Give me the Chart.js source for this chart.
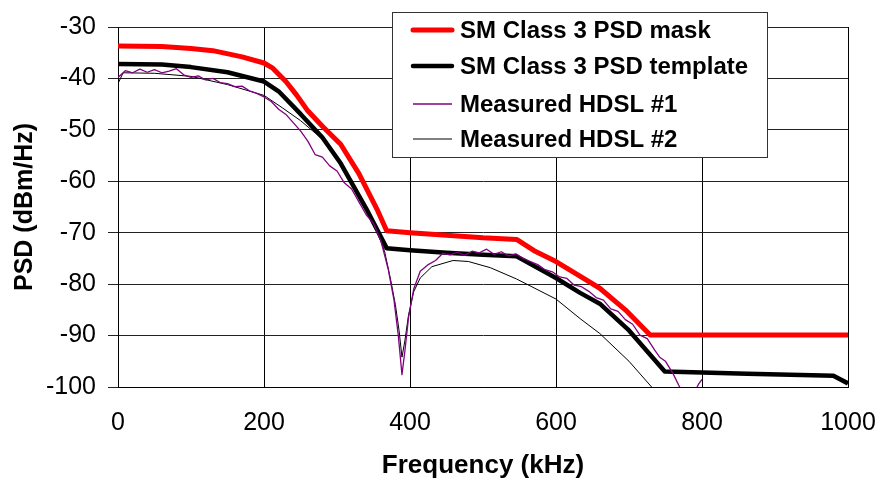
<!DOCTYPE html>
<html>
<head>
<meta charset="utf-8">
<script src="https://cdn.jsdelivr.net/npm/chart.js@4"></script>
<style>
  body { margin: 0; background: #fff; }
  #wrap { width: 882px; height: 481px; }
</style>
</head>
<body>
<div id="wrap"><canvas id="chartPSD" width="882" height="481"></canvas></div>
<script>
// values (kHz, dBm/Hz)
const maskFreq = [0, 60, 100, 130, 170, 200, 212, 230, 245, 260, 280, 305, 330, 355, 368, 400, 450, 500, 546, 570, 600, 630, 660, 695, 729, 1000];
const maskPsd = [-33.7, -33.8, -34.2, -34.6, -35.8, -37.0, -38.0, -40.6, -43.3, -46.3, -49.3, -52.8, -58.5, -65.5, -69.6, -70.0, -70.5, -71.0, -71.3, -73.5, -75.6, -78.2, -80.8, -85.0, -89.9, -89.9];

const templateFreq = [0, 60, 100, 150, 200, 220, 250, 280, 305, 340, 368, 400, 450, 500, 546, 600, 633, 660, 700, 749, 800, 862, 980, 1000];
const templatePsd = [-37.2, -37.3, -37.8, -38.8, -40.6, -42.5, -46.9, -51.5, -56.5, -65.3, -73.0, -73.4, -73.9, -74.3, -74.6, -78.8, -81.7, -83.8, -89.0, -97.0, -97.2, -97.4, -97.8, -99.3];

const hdsl1Freq = [0, 10, 20, 30, 40, 50, 60, 70, 80, 90, 100, 110, 120, 130, 140, 150, 160, 170, 180, 190,
  200, 210, 220, 230, 240, 250, 260, 270, 280, 290, 300, 310, 320, 330, 340, 350, 360, 370, 378, 384,
  389, 393, 398, 405, 414, 425, 435, 445, 455, 465, 475, 485, 495, 505, 515, 525, 535, 545, 555, 565,
  575, 585, 595, 605, 615, 625, 635, 645, 655, 665, 675, 685, 695, 705, 715, 725, 735, 742, 750, 760,
  768, 775, 782, 788, 795, 800];
const hdsl1Psd = [-39.8, -38.5, -38.9, -38.2, -38.8, -38.3, -38.9, -38.6, -38.1, -39.3, -39.8, -39.5, -40.3, -40.0, -40.8, -41.0, -41.6, -41.5, -42.4, -42.9,
  -43.6, -44.5, -46.0, -47.0, -48.6, -50.2, -52.2, -54.8, -55.3, -57.0, -58.0, -60.3, -61.5, -64.0, -66.5, -68.2, -71.5, -77.0, -83.0, -90.0,
  -97.6, -93.0, -86.5, -81.0, -77.5, -76.2, -75.4, -74.0, -74.3, -73.8, -74.4, -73.6, -73.9, -73.2, -74.2, -73.7, -74.5, -74.1, -75.0, -75.6,
  -76.2, -77.2, -77.6, -78.6, -78.9, -80.2, -80.5, -81.4, -82.6, -83.1, -84.8, -85.3, -86.9, -87.8, -89.9, -90.6, -92.8, -94.2, -95.0, -97.3,
  -99.6, -101.5, -100.8, -101.6, -99.5, -98.5];

const hdsl2Freq = [0, 7, 50, 100, 150, 200, 225, 250, 280, 305, 330, 355, 365, 373, 380, 385, 389, 393, 398, 405, 414, 430, 459, 480, 510, 546, 600, 633, 660, 700, 731, 745];
const hdsl2Psd = [-41.0, -38.9, -39.0, -39.6, -41.2, -43.3, -45.7, -48.2, -51.8, -56.9, -62.8, -69.9, -73.5, -78.8, -84.0, -89.0, -94.2, -91.0, -86.0, -81.5, -78.8, -76.6, -75.4, -75.6, -76.8, -79.0, -82.9, -86.7, -89.6, -95.0, -100.0, -102.0];

const xTicks = [0, 200, 400, 600, 800, 1000];
const yTicks = [-100, -90, -80, -70, -60, -50, -40, -30];

function pairs(freq, psd) {
    return freq.map((f, i) => ({ x: f, y: psd[i] }));
}

function makeLine(label, freq, psd, color, width, order) {
    return {
        label: label,
        data: pairs(freq, psd),
        borderColor: color,
        backgroundColor: color,
        borderWidth: width,
        pointRadius: 0,
        tension: 0,
        fill: false,
        borderJoinStyle: 'round',
        borderCapStyle: 'butt',
        order: order
    };
}

// legend drawn as a white box inside the plot, like the original
const legendBox = {
    id: 'legendBox',
    afterDatasetsDraw(chart) {
        const ctx = chart.ctx;
        const rows = [30, 66, 104, 139];
        ctx.save();
        ctx.fillStyle = '#fff';
        ctx.fillRect(392, 12, 375, 145);
        ctx.strokeStyle = '#333';
        ctx.lineWidth = 1;
        ctx.strokeRect(392.5, 12.5, 375, 145);
        ctx.font = 'bold 24px "Liberation Sans", Arial, sans-serif';
        ctx.textBaseline = 'middle';
        ctx.textAlign = 'left';
        chart.data.datasets.forEach((ds, i) => {
            ctx.beginPath();
            ctx.strokeStyle = ds.borderColor;
            ctx.lineWidth = ds.borderWidth;
            ctx.lineCap = ds.borderWidth > 2 ? 'round' : 'butt';
            ctx.moveTo(413, rows[i]);
            ctx.lineTo(452, rows[i]);
            ctx.stroke();
            ctx.fillStyle = '#000';
            ctx.fillText(ds.label, 460, rows[i] + 1);
        });
        ctx.restore();
    }
};

Chart.defaults.font.family = '"Liberation Sans", Arial, sans-serif';
Chart.defaults.color = '#000';

const ctxPSD = document.getElementById('chartPSD').getContext('2d');

const chartPSD = new Chart(ctxPSD, {
    type: 'line',
    data: {
        datasets: [
            makeLine('SM Class 3 PSD mask', maskFreq, maskPsd, '#ff0000', 5, 3),
            makeLine('SM Class 3 PSD template', templateFreq, templatePsd, '#000000', 4.5, 2),
            makeLine('Measured HDSL #1', hdsl1Freq, hdsl1Psd, '#800080', 1.3, 0),
            makeLine('Measured HDSL #2', hdsl2Freq, hdsl2Psd, '#000000', 1, 1)
        ]
    },
    options: {
        responsive: false,
        animation: false,
        layout: { padding: { top: 22, right: 34, bottom: 0, left: 10 } },
        plugins: { legend: { display: false }, tooltip: { enabled: false } },
        scales: {
            x: {
                type: 'linear',
                min: 0,
                max: 1000,
                afterBuildTicks: scale => { scale.ticks = xTicks.map(v => ({ value: v })); },
                afterFit: scale => {
                    scale.height = 94;
                    scale.paddingLeft = 0;
                    scale.paddingRight = 0;
                },
                grid: { color: '#000', lineWidth: 1, drawTicks: false },
                border: { color: '#000', width: 1 },
                ticks: { font: { size: 25 }, padding: 21, maxRotation: 0, callback: v => String(v) },
                title: { display: true, text: 'Frequency (kHz)', font: { size: 26, weight: 'bold' }, padding: 0 }
            },
            y: {
                min: -100,
                max: -30,
                afterBuildTicks: scale => { scale.ticks = yTicks.map(v => ({ value: v })); },
                afterFit: scale => { scale.width = 108; },
                grid: { color: '#222', lineWidth: 1, drawTicks: true, tickLength: 10 },
                border: { color: '#000', width: 1 },
                ticks: { font: { size: 25 }, padding: 12, callback: v => String(v) },
                title: { display: true, text: 'PSD (dBm/Hz)', font: { size: 25, weight: 'bold' }, padding: 0 }
            }
        }
    },
    plugins: [legendBox]
});
</script>
</body>
</html>
